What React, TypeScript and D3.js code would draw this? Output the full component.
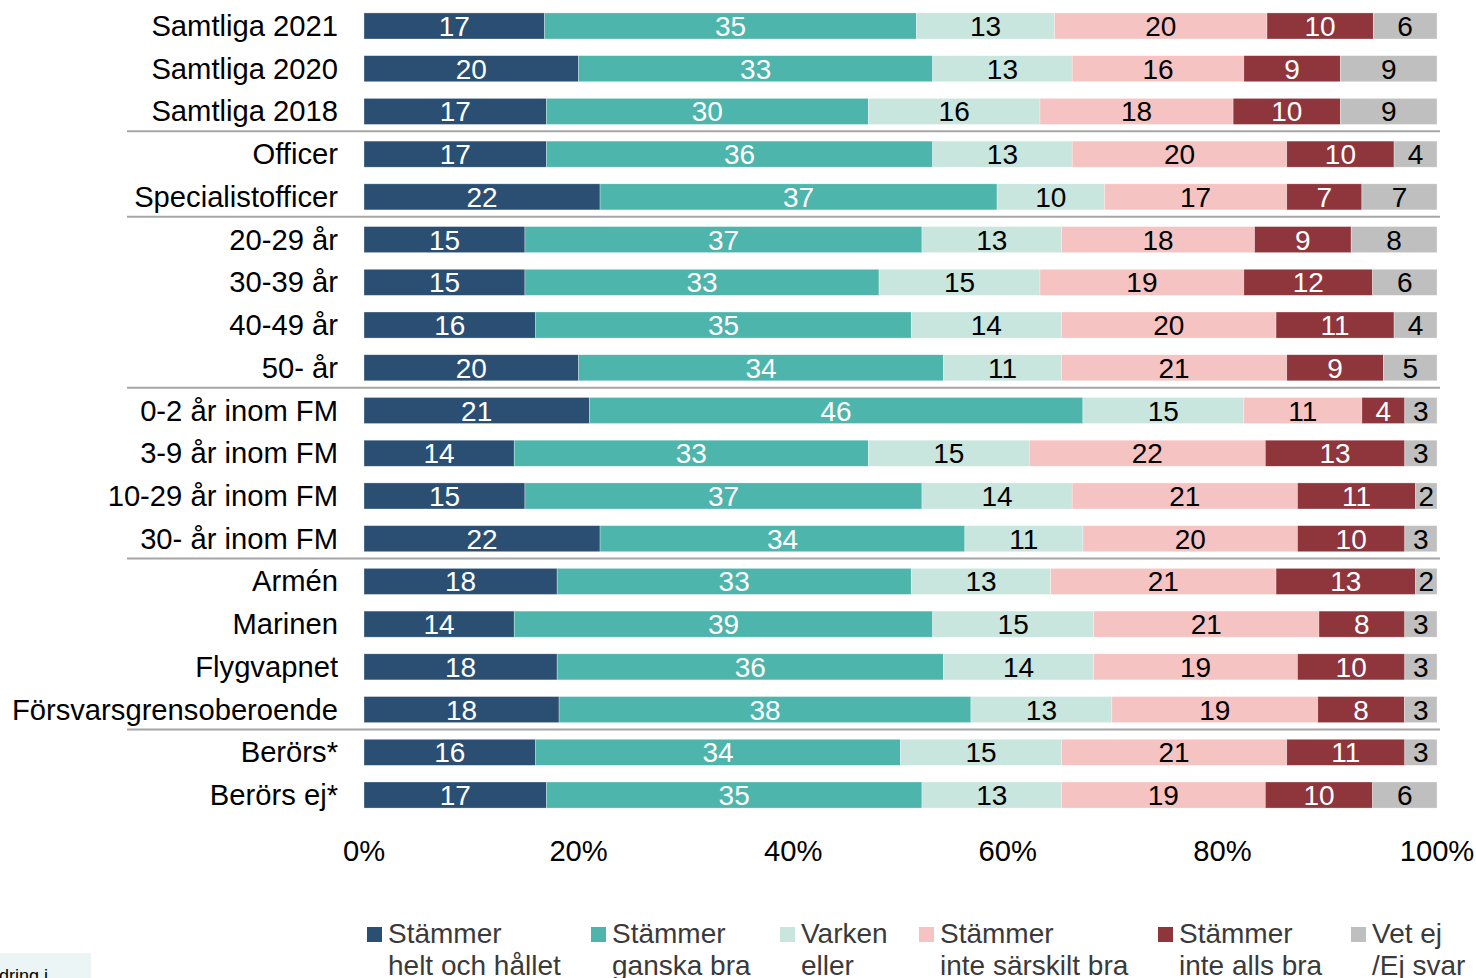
import React from "react";
import * as d3 from "d3";

const categories = [
  "Samtliga 2021", "Samtliga 2020", "Samtliga 2018", "Officer", "Specialistofficer",
  "20-29 år", "30-39 år", "40-49 år", "50- år",
  "0-2 år inom FM", "3-9 år inom FM", "10-29 år inom FM", "30- år inom FM",
  "Armén", "Marinen", "Flygvapnet", "Försvarsgrensoberoende", "Berörs*", "Berörs ej*",
];

const helt = [17, 20, 17, 17, 22, 15, 15, 16, 20, 21, 14, 15, 22, 18, 14, 18, 18, 16, 17];
const ganska = [35, 33, 30, 36, 37, 37, 33, 35, 34, 46, 33, 37, 34, 33, 39, 36, 38, 34, 35];
const varken = [13, 13, 16, 13, 10, 13, 15, 14, 11, 15, 15, 14, 11, 13, 15, 14, 13, 15, 13];
const inteSarskilt = [20, 16, 18, 20, 17, 18, 19, 20, 21, 11, 22, 21, 20, 21, 21, 19, 19, 21, 19];
const inteAlls = [10, 9, 10, 10, 7, 9, 12, 11, 9, 4, 13, 11, 10, 13, 8, 10, 8, 11, 10];
const vetEj = [6, 9, 9, 4, 7, 8, 6, 4, 5, 3, 3, 2, 3, 2, 3, 3, 3, 3, 6];

const seriesNames = [
  ["Stämmer", "helt och hållet"],
  ["Stämmer", "ganska bra"],
  ["Varken", "eller"],
  ["Stämmer", "inte särskilt bra"],
  ["Stämmer", "inte alls bra"],
  ["Vet ej", "/Ej svar"],
];
const seriesValues = [helt, ganska, varken, inteSarskilt, inteAlls, vetEj];
const colors = ["#2a4f73", "#4db5ab", "#c8e5de", "#f6c3c3", "#8f353c", "#bfbfbf"];
const textColors = ["#ffffff", "#ffffff", "#000000", "#000000", "#ffffff", "#000000"];
const separatorsAfter = [2, 4, 8, 12, 16];
const tickValues = [0, 0.2, 0.4, 0.6, 0.8, 1];
const legendX = [367, 591, 780, 919, 1158, 1351];

const W = 1476;
const H = 978;
const FONT = "'Liberation Sans', Arial, sans-serif";

export default function App() {
  const x = d3.scaleLinear().domain([0, 1]).range([364, 1437]);
  const y = d3
    .scaleBand<number>()
    .domain(d3.range(categories.length))
    .range([4.6, 816.4])
    .paddingInner(0.39)
    .paddingOuter(0.195);
  const bh = y.bandwidth();
  const step = y.step();

  const rows = categories.map((c, i) => {
    const vals = seriesValues.map((s) => s[i]);
    const total = d3.sum(vals);
    let acc = 0;
    const segs = vals.map((v, k) => {
      const x0 = acc / total;
      acc += v;
      const x1 = acc / total;
      return { v, k, x0, x1 };
    });
    return { c, i, segs };
  });

  return (
    <svg
      width={W}
      height={H}
      style={{ position: "absolute", left: 0, top: 0, background: "#fff" }}
      fontFamily={FONT}
    >
      {rows.map((r) => {
        const yt = y(r.i)!;
        const cy = yt + bh / 2;
        return (
          <g key={r.c}>
            <text x={338} y={cy + 10} textAnchor="end" fontSize={29.2} fill="#000">
              {r.c}
            </text>
            {r.segs.map((s) => (
              <rect
                key={s.k}
                x={x(s.x0)}
                y={yt}
                width={x(s.x1) - x(s.x0)}
                height={bh}
                fill={colors[s.k]}
                stroke="#ffffff"
                strokeOpacity={0.5}
                strokeWidth={0.6}
              />
            ))}
            {r.segs.map((s) => (
              <text
                key={"t" + s.k}
                x={(x(s.x0) + x(s.x1)) / 2}
                y={cy + 10}
                textAnchor="middle"
                fontSize={28}
                fill={textColors[s.k]}
              >
                {s.v}
              </text>
            ))}
          </g>
        );
      })}
      {separatorsAfter.map((i) => {
        const ly = y(i)! + bh + (step - bh) / 2 - 1.5;
        return (
          <line key={"sep" + i} x1={127} x2={1440} y1={ly} y2={ly} stroke="#a6a6a6" strokeWidth={2} />
        );
      })}
      {tickValues.map((t) => (
        <text key={"tick" + t} x={x(t)} y={861} textAnchor="middle" fontSize={29.2} fill="#000">
          {d3.format(".0%")(t)}
        </text>
      ))}
      {seriesNames.map((n, k) => (
        <g key={"leg" + k}>
          <rect x={legendX[k]} y={927} width={15} height={15} fill={colors[k]} />
          <text x={legendX[k] + 21} y={943} fontSize={28} fill="#3a3a3a">
            {n[0]}
          </text>
          <text x={legendX[k] + 21} y={975} fontSize={28} fill="#3a3a3a">
            {n[1]}
          </text>
        </g>
      ))}
      <rect x={0} y={953} width={91} height={25} fill="#ebf5f6" />
      <text x={-1} y={982} fontSize={18} fill="#000">
        dring i
      </text>
    </svg>
  );
}
